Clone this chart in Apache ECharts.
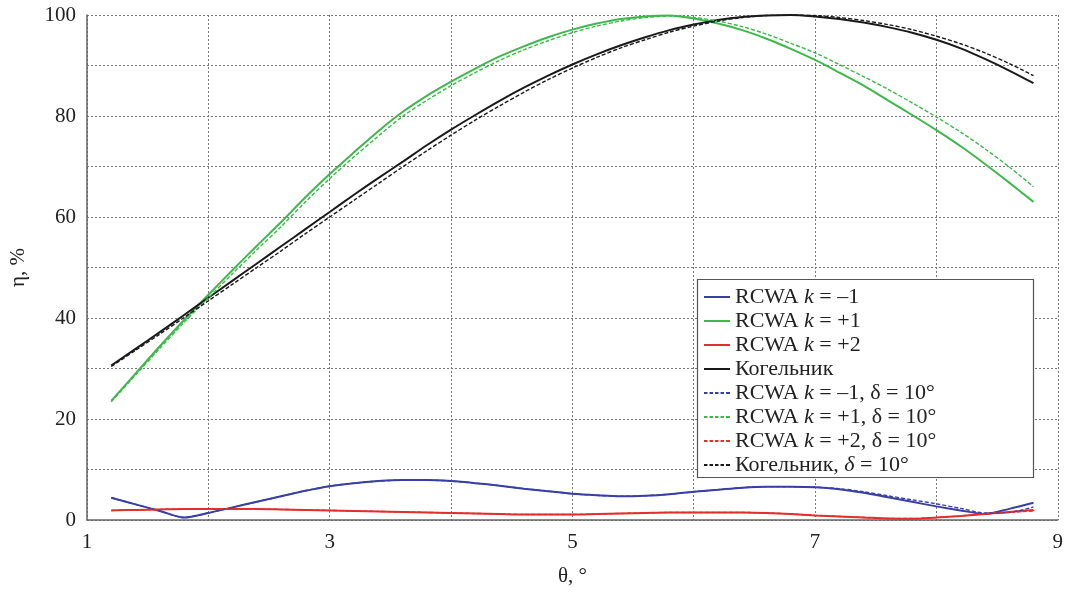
<!DOCTYPE html>
<html>
<head>
<meta charset="utf-8">
<script src="https://cdn.jsdelivr.net/npm/echarts@6/dist/echarts.min.js"></script>
<style>html,body{margin:0;padding:0;background:#fff;}#c{width:1066px;height:592px;}</style>
</head>
<body>
<div id="c"></div>
<script>
const theta = [1.2,1.4,1.6,1.8,2.0,2.2,2.4,2.6,2.8,3.0,3.2,3.4,3.6,3.8,4.0,4.2,4.4,4.6,4.8,5.0,5.2,5.4,5.6,5.8,6.0,6.2,6.4,6.6,6.8,7.0,7.2,7.4,7.6,7.8,8.0,8.2,8.4,8.6,8.8];

const kMinus1 = [4.4,3.1,1.8,0.5,1.4,2.5,3.6,4.7,5.8,6.7,7.3,7.7,7.9,7.9,7.7,7.3,6.8,6.2,5.7,5.2,4.9,4.7,4.8,5.1,5.6,6.0,6.4,6.6,6.6,6.5,6.1,5.4,4.5,3.6,2.7,1.9,1.2,2.2,3.4];
const kPlus1 = [23.6,29.0,34.4,39.6,44.6,49.5,54.3,59.0,63.9,68.5,72.8,77.0,80.8,84.0,86.8,89.4,91.8,93.8,95.6,97.1,98.3,99.2,99.7,99.9,99.3,98.3,97.0,95.3,93.3,91.1,88.6,86.0,83.1,80.2,77.2,74.0,70.5,66.8,63.0];
const kPlus2 = [1.9,2.0,2.1,2.2,2.2,2.2,2.2,2.1,2.0,1.9,1.8,1.7,1.6,1.5,1.4,1.3,1.2,1.1,1.1,1.1,1.2,1.3,1.4,1.5,1.5,1.5,1.5,1.4,1.2,0.9,0.7,0.5,0.3,0.25,0.5,0.8,1.2,1.6,2.0];
const kogelnik = [30.6,33.9,37.2,40.6,44.0,47.4,50.8,54.2,57.6,61.0,64.4,67.7,70.9,74.2,77.3,80.2,83.0,85.6,88.0,90.2,92.2,94.0,95.6,97.0,98.1,99.0,99.6,99.9,100.0,99.7,99.2,98.5,97.6,96.5,95.1,93.4,91.3,89.0,86.5];

const kMinus1d = [4.4,3.1,1.8,0.5,1.4,2.5,3.6,4.7,5.8,6.7,7.3,7.7,7.9,7.9,7.7,7.3,6.8,6.2,5.7,5.2,4.9,4.7,4.8,5.1,5.6,6.0,6.4,6.6,6.6,6.5,6.2,5.6,4.8,4.0,3.2,2.3,1.4,1.5,2.6];
const kPlus1d = [23.4,28.7,34.0,39.1,44.0,48.8,53.5,58.1,63.0,67.6,71.9,76.0,79.9,83.1,86.0,88.6,91.0,93.1,94.9,96.5,97.8,98.8,99.5,99.8,99.5,98.8,97.7,96.2,94.4,92.5,90.2,87.8,85.3,82.6,79.8,76.8,73.5,69.9,66.0];
const kPlus2d = [1.9,2.0,2.1,2.2,2.2,2.2,2.2,2.1,2.0,1.9,1.8,1.7,1.6,1.5,1.4,1.3,1.2,1.1,1.1,1.1,1.2,1.3,1.4,1.5,1.5,1.5,1.5,1.4,1.2,0.9,0.7,0.5,0.3,0.3,0.5,0.8,1.2,1.5,1.8];
const kogelnikd = [30.4,33.6,36.8,40.1,43.4,46.7,50.0,53.3,56.7,60.0,63.3,66.6,69.9,73.1,76.2,79.2,82.0,84.7,87.2,89.5,91.6,93.5,95.1,96.6,97.8,98.8,99.5,99.9,100.0,99.9,99.5,98.9,98.1,97.1,95.8,94.3,92.5,90.4,88.0];

const xTicks = [1,3,5,7,9];
const yTicks = [0,20,40,60,80,100];

const names = ['RCWA k = –1','RCWA k = +1','RCWA k = +2','Когельник',
  'RCWA k = –1, δ = 10°','RCWA k = +1, δ = 10°','RCWA k = +2, δ = 10°','Когельник, δ = 10°'];
const seriesData = [kMinus1,kPlus1,kPlus2,kogelnik,kMinus1d,kPlus1d,kPlus2d,kogelnikd];
const colors = ['#3a3fa6','#3db84b','#e0302e','#1a1a1a','#3a3fa6','#3db84b','#e0302e','#1a1a1a'];

const FONT = '"Liberation Serif", "DejaVu Serif", serif';
const DASH_ICON = 'path://M0,0h3.5v2h-3.5z M5.5,0h3.5v2h-3.5z M11,0h3.5v2h-3.5z M16.5,0h3.5v2h-3.5z M22,0h4v2h-4z';

const chart = echarts.init(document.getElementById('c'), null, {renderer:'canvas'});

const series = seriesData.map((d,i)=>({
  name: names[i],
  type: 'line',
  data: theta.map((t,j)=>[t,d[j]]),
  showSymbol: false,
  smooth: 0.3,
  z: i<4 ? 3 : 4,
  color: colors[i],
  lineStyle: {color: colors[i], width: i<4 ? 2 : 1.4, type: i<4 ? 'solid' : [4,2]},
  itemStyle: {color: colors[i]}
}));

function legendFmt(name){
  if (name.indexOf('RCWA') === 0) {
    return '{n|RCWA }{i|k}{n|' + name.slice(6) + '}';
  }
  if (name.indexOf('δ') >= 0) {
    return '{n|Когельник, }{i|δ}{n| = 10°}';
  }
  return '{n|' + name + '}';
}

chart.setOption({
  backgroundColor: '#fff',
  animation: false,
  grid: {left: 82, right: 6, top: 15, bottom: 69},
  graphic: [{
    type: 'rect', z: 50, silent: true,
    shape: {x: 697.5, y: 279.5, width: 336, height: 198},
    style: {fill: '#fff', stroke: '#555', lineWidth: 1.2}
  }],
  xAxis: {
    type: 'value', min: 1, max: 9, interval: 1,
    name: 'θ, °', nameLocation: 'middle', nameGap: 46,
    nameTextStyle: {fontFamily: FONT, fontSize: 21, color: '#222'},
    axisLine: {show: true, onZero: false, lineStyle: {color: '#666', width: 1.5}},
    axisTick: {show: false},
    axisLabel: {fontFamily: FONT, fontSize: 21, color: '#222', margin: 12,
      formatter: v => xTicks.indexOf(v) >= 0 ? String(v) : ''},
    splitLine: {show: true, lineStyle: {color: '#777', type: [2,2], width: 1}}
  },
  yAxis: {
    type: 'value', min: 0, max: 100, interval: 10,
    name: 'η, %', nameLocation: 'middle', nameGap: 58, nameRotate: 90,
    nameTextStyle: {fontFamily: FONT, fontSize: 21, color: '#222'},
    axisLine: {show: true, lineStyle: {color: '#666', width: 1.5}},
    axisTick: {show: false},
    axisLabel: {fontFamily: FONT, fontSize: 21, color: '#222', margin: 11,
      formatter: v => yTicks.indexOf(v) >= 0 ? String(v) : ''},
    splitLine: {show: true, lineStyle: {color: '#777', type: [2,2], width: 1}}
  },
  legend: {
    orient: 'vertical',
    left: 704, top: 286,
    z: 60,
    padding: 0,
    itemWidth: 26, itemHeight: 2, itemGap: 2,
    data: names.map((n,i)=>({name: n, icon: i<4 ? 'rect' : DASH_ICON})),
    formatter: legendFmt,
    textStyle: {
      fontFamily: FONT, fontSize: 22, color: '#222', lineHeight: 20,
      rich: {
        n: {fontFamily: FONT, fontSize: 22, color: '#222', lineHeight: 20},
        i: {fontFamily: FONT, fontSize: 22, color: '#222', fontStyle: 'italic', lineHeight: 20}
      }
    }
  },
  series: series
});
</script>
</body>
</html>
